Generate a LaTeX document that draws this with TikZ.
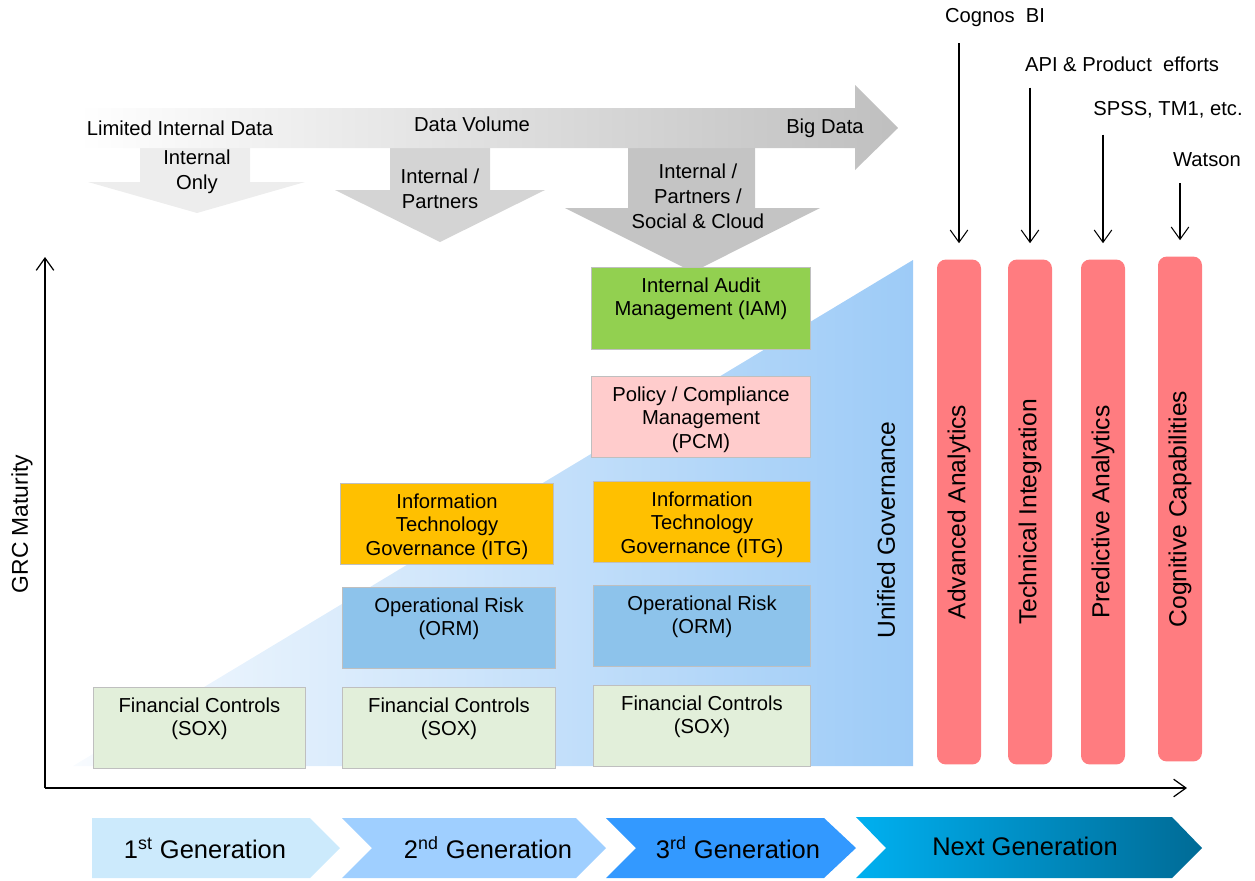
\documentclass[tikz,border=0pt]{standalone}
\usepackage{fontspec}
\setmainfont{Liberation Sans}
\usetikzlibrary{arrows.meta}
\definecolor{fcgreen}{HTML}{E2EFDA}
\definecolor{ormblue}{HTML}{8DC3EB}
\definecolor{itgorange}{HTML}{FFC000}
\definecolor{pcmpink}{HTML}{FFCCCC}
\definecolor{iamgreen}{HTML}{92D050}
\definecolor{barred}{HTML}{FF7C80}
\definecolor{gena}{HTML}{CCEAFC}
\definecolor{genb}{HTML}{9FCFFF}
\definecolor{genc}{HTML}{3399FF}
\definecolor{gendl}{HTML}{00B0F0}
\definecolor{gendr}{HTML}{006B96}
\definecolor{trileft}{HTML}{F8FBFE}
\definecolor{triright}{HTML}{9DCBF7}
\tikzset{
  cell/.style={draw=black!25, line width=0.6pt, minimum height=1.62cm, anchor=north west, inner sep=0pt,
    label={[align=center, anchor=north, yshift=-2.5pt, font=\fontsize{11.5}{13.4}\selectfont]north:#1}},
  bar/.style={fill=barred, rounded corners=5pt, rotate=90, minimum width=10.1cm, minimum height=0.88cm,
    font=\fontsize{14}{16}\selectfont},
  feed/.style={-{Straight Barb[length=7pt,width=10pt]}, line width=0.6pt, shorten <=0.2cm, shorten >=0.32cm},
  axis/.style={-{Straight Barb[length=7pt,width=10pt]}, line width=0.7pt},
  gen/.style={font=\fontsize{14.5}{16}\selectfont}
}
\begin{document}
\begin{tikzpicture}[x=0.02cm, y=-0.02cm, font=\fontsize{11.5}{14.2}\selectfont]
\useasboundingbox (0,0) rectangle (1255,880);

\fill[black!7] (140,148) -- (250,148) -- (250,182) -- (305,182) -- (197,213) -- (88,182) -- (140,182) -- cycle;
\fill[black!17] (390,148) -- (490,148) -- (490,190) -- (545,190) -- (440,242) -- (335,190) -- (390,190) -- cycle;
\fill[black!23] (628,148) -- (755,148) -- (755,208) -- (820,208) -- (693,272) -- (565,208) -- (628,208) -- cycle;
\shade[left color=white, right color=black!25] (78,108) -- (855,108) -- (855,85) -- (898,128) -- (855,170) -- (855,148) -- (78,148) -- cycle;

\node (lid) at (180,128) {Limited Internal Data};
\node (dv) at (472,124) {Data Volume};
\node (bd) at (825,128) {Big Data};
\node[align=center] (io) at (197,172) {Internal\\Only};
\node[align=center] (ip) at (440,189) {Internal /\\Partners};
\node[align=center] (ips) at (698,196) {Internal /\\Partners /\\Social \& Cloud};

\shade[left color=trileft, right color=triright] (73,766) -- (913,260) -- (913,766) -- cycle;

\coordinate (origin) at (45,788);
\coordinate (ytop) at (45,257);
\coordinate (xend) at (1187,788);
\draw[axis] (origin) -- (ytop);
\draw[axis] (origin) -- (xend);
\node[rotate=90, font=\fontsize{13}{15}\selectfont] (grc) at (22,524) {GRC Maturity};

\node[cell={Financial Controls\\(SOX)}, fill=fcgreen, minimum width=4.24cm] (fc1) at (93,687) {};
\node[cell={Financial Controls\\(SOX)}, fill=fcgreen, minimum width=4.26cm] (fc2) at (342,687) {};
\node[cell={Operational Risk\\(ORM)}, fill=ormblue, minimum width=4.26cm] (orm2) at (342,587) {};
\node[cell={Information\\Technology\\Governance (ITG)}, fill=itgorange, minimum width=4.26cm] (itg2) at (340,483) {};
\node[cell={Financial Controls\\(SOX)}, fill=fcgreen, minimum width=4.34cm] (fc3) at (593,685) {};
\node[cell={Operational Risk\\(ORM)}, fill=ormblue, minimum width=4.34cm] (orm3) at (593,585) {};
\node[cell={Information\\Technology\\Governance (ITG)}, fill=itgorange, minimum width=4.34cm] (itg3) at (593,481) {};
\node[cell={Policy / Compliance\\Management\\(PCM)}, fill=pcmpink, minimum width=4.38cm] (pcm) at (591,376) {};
\node[cell={Internal Audit\\Management (IAM)}, fill=iamgreen, minimum width=4.38cm, minimum height=1.64cm] (iam) at (591,267) {};

\node[rotate=90, font=\fontsize{14}{16}\selectfont] (ug) at (886,530) {Unified Governance};

\node[bar] (aa) at (959,512) {Advanced Analytics};
\node[bar] (ti) at (1030,512) {Technical Integration};
\node[bar] (pa) at (1103,512) {Predictive Analytics};
\node[bar] (cc) at (1180,509) {Cognitive Capabilities};

\node (cog) at (995,18) {Cognos\ \ BI};
\node (api) at (1122,64) {API \& Product\ \ efforts};
\node (spss) at (1168,110) {SPSS, TM1, etc.};
\node (wat) at (1207,160) {Watson};
\draw[feed] (aa.east |- cog.south) -- (aa.east);
\draw[feed] (ti.east |- api.south) -- (ti.east);
\draw[feed] (pa.east |- spss.south) -- (pa.east);
\draw[feed] (cc.east |- wat.south) -- (cc.east);

\fill[gena] (92,818) -- (310,818) -- (340,848) -- (310,878) -- (92,878) -- cycle;
\fill[genb] (342,818) -- (576,818) -- (606,848) -- (576,878) -- (342,878) -- (372,848) -- cycle;
\fill[genc] (606,818) -- (824,818) -- (856,848) -- (824,878) -- (606,878) -- (636,848) -- cycle;
\shade[left color=gendl, right color=gendr] (856,817) -- (1172,817) -- (1202,848) -- (1172,878) -- (856,878) -- (886,848) -- cycle;
\node[gen] (g1) at (205,848) {1\textsuperscript{st} Generation};
\node[gen] (g2) at (488,848) {2\textsuperscript{nd} Generation};
\node[gen] (g3) at (738,848) {3\textsuperscript{rd} Generation};
\node[gen] (g4) at (1025,846) {Next Generation};
\end{tikzpicture}
\end{document}
